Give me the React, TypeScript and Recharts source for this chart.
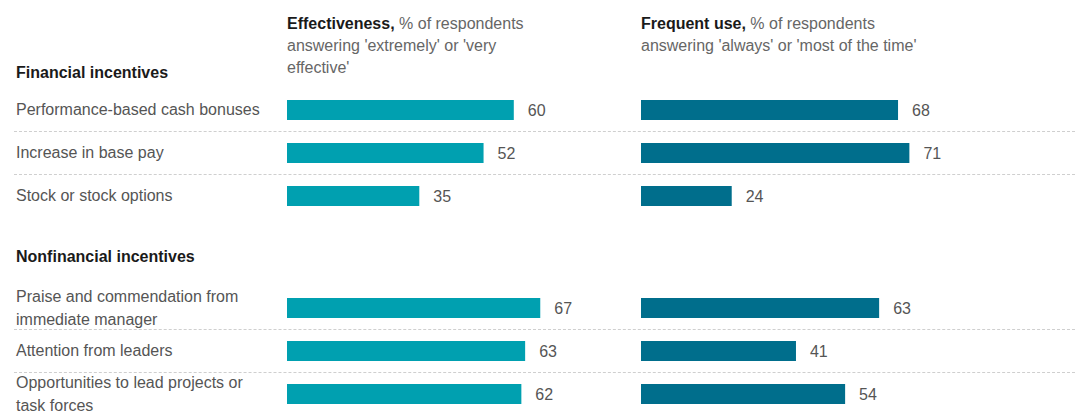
import React from "react";
import { Bar, BarChart, LabelList, XAxis, YAxis } from "recharts";

const financialCategories = [
  "Performance-based cash bonuses",
  "Increase in base pay",
  "Stock or stock options",
];
const financialEffectiveness = [60, 52, 35];
const financialFrequentUse = [68, 71, 24];

const nonfinancialCategories = [
  "Praise and commendation from\nimmediate manager",
  "Attention from leaders",
  "Opportunities to lead projects or\ntask forces",
];
const nonfinancialEffectiveness = [67, 63, 62];
const nonfinancialFrequentUse = [63, 41, 54];

const FONT = "'Liberation Sans', Arial, sans-serif";
const LABEL_GRAY = "#555";
const TEAL = "#00a0b0";
const DARK_TEAL = "#006e8c";

const ROW = 43;
const PLOT_W = 378;

function LabelTick(props: any) {
  const { y, payload } = props;
  const lines = String(payload.value).split("\n");
  const start = -((lines.length - 1) * 23) / 2;
  return (
    <text x={16} y={y} fill={LABEL_GRAY} fontSize={16} fontFamily={FONT} textAnchor="start">
      {lines.map((line: string, i: number) => (
        <tspan key={i} x={16} y={y + start + i * 23} dy="0.35em">
          {line}
        </tspan>
      ))}
    </text>
  );
}

type SectionProps = {
  top: number;
  categories: string[];
  effectiveness: number[];
  frequent: number[];
};

function Section({ top, categories, effectiveness, frequent }: SectionProps) {
  const data = categories.map((name, i) => ({
    name,
    effectiveness: effectiveness[i],
    frequent: frequent[i],
  }));
  const height = ROW * categories.length;

  return (
    <>
      {categories.slice(1).map((_, i) => (
        <div
          key={i}
          style={{
            position: "absolute",
            left: 14,
            right: 0,
            top: top + ROW * (i + 1),
            borderTop: "1px dashed #cfcfcf",
          }}
        />
      ))}
      <div style={{ position: "absolute", left: 0, top }}>
        <BarChart
          width={287 + PLOT_W + 40}
          height={height}
          data={data}
          layout="vertical"
          margin={{ top: 0, right: 40, bottom: 0, left: 0 }}
        >
          <XAxis type="number" domain={[0, 100]} hide />
          <YAxis
            type="category"
            dataKey="name"
            width={287}
            axisLine={false}
            tickLine={false}
            tick={<LabelTick />}
          />
          <Bar dataKey="effectiveness" fill={TEAL} barSize={20} isAnimationActive={false}>
            <LabelList
              dataKey="effectiveness"
              position="right"
              offset={14}
              fill={LABEL_GRAY}
              fontSize={16}
              fontFamily={FONT}
            />
          </Bar>
        </BarChart>
      </div>
      <div style={{ position: "absolute", left: 641, top }}>
        <BarChart
          width={PLOT_W + 56}
          height={height}
          data={data}
          layout="vertical"
          margin={{ top: 0, right: 56, bottom: 0, left: 0 }}
        >
          <XAxis type="number" domain={[0, 100]} hide />
          <YAxis type="category" dataKey="name" hide />
          <Bar dataKey="frequent" fill={DARK_TEAL} barSize={20} isAnimationActive={false}>
            <LabelList
              dataKey="frequent"
              position="right"
              offset={14}
              fill={LABEL_GRAY}
              fontSize={16}
              fontFamily={FONT}
            />
          </Bar>
        </BarChart>
      </div>
    </>
  );
}

const boldText: React.CSSProperties = { fontWeight: 700, color: "#1a1a1a" };

export default function App() {
  return (
    <div
      style={{
        position: "absolute",
        left: 0,
        top: 0,
        width: 1075,
        height: 418,
        background: "#fff",
        fontFamily: FONT,
        fontSize: 16,
        overflow: "hidden",
      }}
    >
      <div style={{ position: "absolute", left: 287, top: 13, lineHeight: "22px", color: "#666" }}>
        <span style={boldText}>Effectiveness,</span> % of respondents
        <br />
        answering 'extremely' or 'very
        <br />
        effective'
      </div>
      <div style={{ position: "absolute", left: 641, top: 13, lineHeight: "22px", color: "#666" }}>
        <span style={boldText}>Frequent use,</span> % of respondents
        <br />
        answering 'always' or 'most of the time'
      </div>

      <div style={{ position: "absolute", left: 16, top: 62, lineHeight: "22px", ...boldText }}>
        Financial incentives
      </div>
      <div style={{ position: "absolute", left: 16, top: 246, lineHeight: "22px", ...boldText }}>
        Nonfinancial incentives
      </div>

      <Section
        top={88}
        categories={financialCategories}
        effectiveness={financialEffectiveness}
        frequent={financialFrequentUse}
      />
      <Section
        top={286}
        categories={nonfinancialCategories}
        effectiveness={nonfinancialEffectiveness}
        frequent={nonfinancialFrequentUse}
      />
    </div>
  );
}
